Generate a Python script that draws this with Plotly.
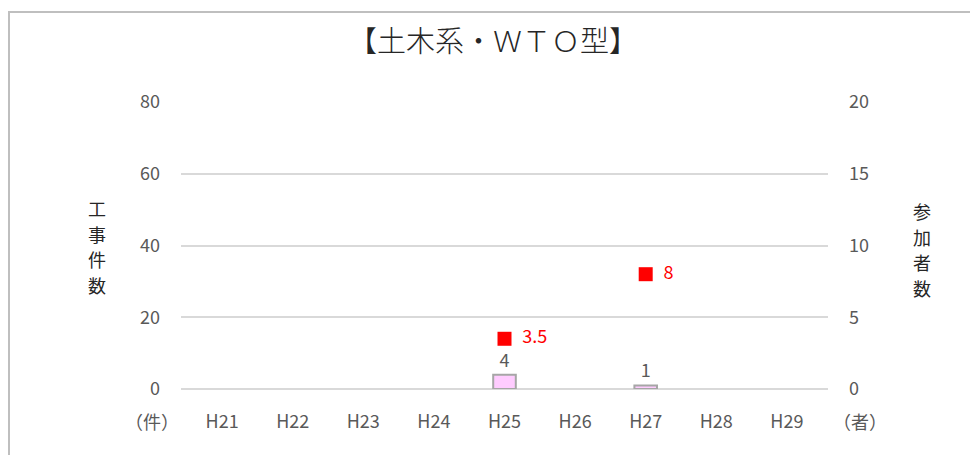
import plotly.graph_objects as go

years = ["H21", "H22", "H23", "H24", "H25", "H26", "H27", "H28", "H29"]
works = [None, None, None, None, 4, None, 1, None, None]          # 工事件数 (左軸)
bidders = [None, None, None, None, 3.5, None, 8, None, None]      # 参加者数 (右軸)

FONT = "Noto Sans CJK JP"
GREY = "#595959"

# page body has an 8px margin, so the figure is shrunk by that much
W, H = 970, 447
L, T, PW, PH = 173, 94, 647, 287


def px(x):  # window pixel -> paper x
    return (x - 181) / PW


def py(y):  # window pixel -> paper y
    return (389 - y) / PH


fig = go.Figure()
fig.add_trace(go.Bar(
    x=years, y=works,
    marker=dict(color="#ffccff", line=dict(color="#a6a6a6", width=2)),
    width=0.32,
    text=[str(v) if v is not None else "" for v in works],
    textposition="outside",
    textfont=dict(color=GREY, size=18, family=FONT),
    cliponaxis=False,
    showlegend=False,
))
fig.add_trace(go.Scatter(
    x=years, y=bidders, yaxis="y2",
    mode="markers+text",
    marker=dict(symbol="square", size=14, color="#ff0000"),
    text=[f"  {v:g}" if v is not None else "" for v in bidders],
    textposition="middle right",
    textfont=dict(color="#ff0000", size=18, family=FONT),
    cliponaxis=False,
    showlegend=False,
))

# vertical axis titles, one character per annotation
annots = []
for i, ch in enumerate("工事件数"):
    annots.append(dict(text=ch, xref="paper", yref="paper", showarrow=False, borderpad=0,
                       x=px(97), y=py(208 + 25.5 * i), xanchor="center", yanchor="middle",
                       font=dict(size=18, color="#262626")))
for i, ch in enumerate("参加者数"):
    annots.append(dict(text=ch, xref="paper", yref="paper", showarrow=False, borderpad=0,
                       x=px(922), y=py(211 + 25.5 * i), xanchor="center", yanchor="middle",
                       font=dict(size=18, color="#262626")))
annots += [
    dict(text="（件）", xref="paper", yref="paper", showarrow=False,
         x=px(152), y=py(421), xanchor="center", yanchor="middle",
         font=dict(size=18, color=GREY)),
    dict(text="（者）", xref="paper", yref="paper", showarrow=False,
         x=px(860), y=py(421), xanchor="center", yanchor="middle",
         font=dict(size=18, color=GREY)),
]

fig.update_layout(
    width=W, height=H,
    margin=dict(l=L, r=W - L - PW, t=T, b=H - T - PH),
    plot_bgcolor="white", paper_bgcolor="white",
    font=dict(family=FONT, color=GREY, size=18),
    title=dict(text="【土木系・ＷＴＯ型】", x=0.5, xanchor="center", y=1 - 34 / H, yanchor="middle",
               font=dict(size=29, color="#262626", family=FONT, weight=300)),
    xaxis=dict(showgrid=False, showline=False, ticks="", ticklabelstandoff=20,
               tickfont=dict(size=18, color=GREY)),
    yaxis=dict(range=[0, 80], dtick=20, showgrid=True, gridcolor="#d9d9d9", gridwidth=1.5,
               zeroline=True, zerolinecolor="#d9d9d9", zerolinewidth=1.5,
               showline=False, ticks="", ticklabelstandoff=20, tickfont=dict(size=18, color=GREY)),
    yaxis2=dict(range=[0, 20], dtick=5, overlaying="y", side="right", showgrid=False,
                zeroline=False, showline=False, ticks="", ticklabelstandoff=20,
                tickfont=dict(size=18, color=GREY)),
    shapes=[dict(type="rect", xref="paper", yref="paper",
                 x0=px(9), x1=px(1000),
                 y0=py(480), y1=py(12),
                 line=dict(color="#bfbfbf", width=2), fillcolor="rgba(0,0,0,0)", layer="below")],
    annotations=annots,
)

fig.write_html("out.html")
